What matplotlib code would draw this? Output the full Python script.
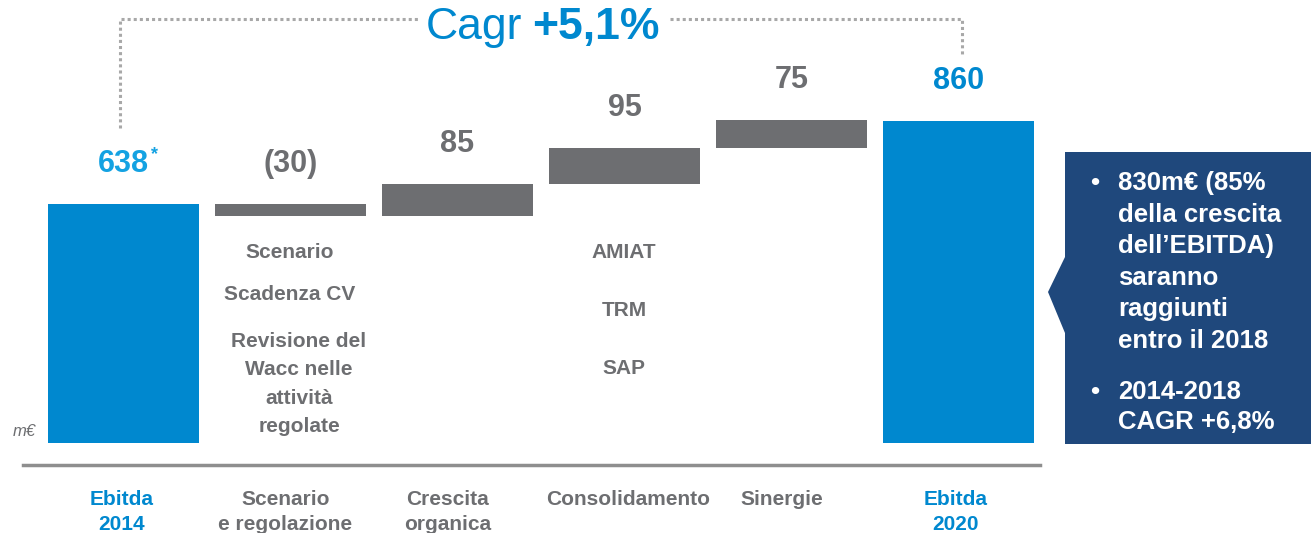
import matplotlib
matplotlib.use("Agg")
import matplotlib.pyplot as plt
from matplotlib.patches import Polygon

# ---------------- data ----------------
categories = ["Ebitda\n2014", "Scenario\ne regolazione", "Crescita\norganica",
              "Consolidamento", "Sinergie", "Ebitda\n2020"]
ebitda_2014 = 638
deltas = [-30, 85, 95, 75]
ebitda_2020 = 860
value_labels = ["638", "(30)", "85", "95", "75", "860"]
scenario_drivers = ["Scenario", "Scadenza CV", "Revisione del\nWacc nelle\nattività\nregolate"]
consolidation_drivers = ["AMIAT", "TRM", "SAP"]
cagr_label = "+5,1%"
callout_points = ["830m€ (85%\ndella crescita\ndell’EBITDA)\nsaranno\nraggiunti\nentro il 2018",
                  "2014-2018\nCAGR +6,8%"]
unit_label = "m€"

# ---------------- style ----------------
plt.rcParams["font.family"] = ["Liberation Sans", "DejaVu Sans"]
BLUE = "#0088CF"
BLUE_LIGHT = "#14A2E2"
GRAY = "#6D6E71"
NAVY = "#1F487C"
DOT = "#A8A8A8"

W, H = 1311, 533
fig = plt.figure(figsize=(W / 100, H / 100), dpi=100)

# main axes: pixel x 23..1040, y 0..465
ax = fig.add_axes([23 / W, (H - 465) / H, 1017 / W, 465 / H])
px_per_unit = 0.374
ax.set_ylim((443 - 465) / px_per_unit, 443 / px_per_unit)
ax.set_xlim((23 - 123.5) / 167, (1040 - 123.5) / 167)

bw = 0.904
n = len(categories)

# totals
ax.bar(0, ebitda_2014, width=bw, color=BLUE, zorder=2)
ax.bar(n - 1, ebitda_2020, width=bw, color=BLUE, zorder=2)

# deltas
cum = ebitda_2014
tops = [ebitda_2014]
for i, d in enumerate(deltas, start=1):
    new = cum + d
    lo, hi = min(cum, new), max(cum, new)
    ax.bar(i, hi - lo, bottom=lo, width=bw, color=GRAY, zorder=2)
    tops.append(hi)
    cum = new
tops.append(ebitda_2020)

# value labels
for i, (t, lab) in enumerate(zip(tops, value_labels)):
    col = BLUE_LIGHT if i == 0 else (BLUE if i == n - 1 else GRAY)
    ax.annotate(lab, (i, t), xytext=(0, 29), textcoords="offset points",
                ha="center", va="center", fontsize=22, fontweight="bold", color=col)
ax.annotate("*", (0, tops[0]), xytext=(22, 36), textcoords="offset points",
            ha="center", va="center", fontsize=13, fontweight="bold", color=BLUE_LIGHT)

# axes styling
for s in ["top", "right", "left"]:
    ax.spines[s].set_visible(False)
ax.spines["bottom"].set_color("#8E8E8E")
ax.spines["bottom"].set_linewidth(2.5)
ax.set_yticks([])
ax.set_xticks([])

# category labels
cat_dx = [-0.01, -0.03, -0.06, 0.02, -0.06, -0.02]
for i, (c, dx) in enumerate(zip(categories, cat_dx)):
    col = BLUE if i in (0, n - 1) else GRAY
    ax.annotate(c, (i + dx, 0), xycoords=("data", "axes fraction"),
                xytext=(0, -18), textcoords="offset points",
                ha="center", va="top", fontsize=15, fontweight="bold",
                color=col, linespacing=1.42, annotation_clip=False)

# ---------------- overlay in pixel coordinates ----------------
ov = fig.add_axes([0, 0, 1, 1])
ov.set_xlim(0, W)
ov.set_ylim(H, 0)
ov.axis("off")

# driver labels
ov.text(290, 253, scenario_drivers[0], ha="center", va="center", fontsize=15,
        fontweight="bold", color=GRAY)
ov.text(290, 294, scenario_drivers[1], ha="center", va="center", fontsize=15,
        fontweight="bold", color=GRAY)
ov.text(299, 384, scenario_drivers[2], ha="center", va="center", fontsize=15,
        fontweight="bold", color=GRAY, linespacing=1.62, multialignment="center")
for txt, y in zip(consolidation_drivers, [252, 311, 368]):
    ov.text(624, y, txt, ha="center", va="center", fontsize=15,
            fontweight="bold", color=GRAY)

ov.text(13, 432, unit_label, ha="left", va="center", fontsize=12,
        fontstyle="italic", color=GRAY)

# CAGR bracket
dash = dict(color=DOT, lw=2.2, linestyle=(0, (1, 1)))
ov.plot([120, 120, 418], [128, 19, 19], **dash)
ov.plot([670, 962, 962], [19, 19, 55], **dash)
ov.text(522, 28, "Cagr", ha="right", va="center", fontsize=32, color=BLUE)
ov.text(532, 28, cagr_label, ha="left", va="center", fontsize=32,
        fontweight="bold", color=BLUE)

# callout box
poly = Polygon([(1065, 152), (1311, 152), (1311, 444), (1065, 444),
                (1065, 333), (1048, 292), (1065, 257)],
               closed=True, facecolor=NAVY, edgecolor="none")
ov.add_patch(poly)
for txt, ytop, ls in zip(callout_points, [171, 380], [1.40, 1.3]):
    ov.text(1090, ytop, "•", ha="left", va="top", fontsize=18.5,
            fontweight="bold", color="white")
    ov.text(1118, ytop, txt, ha="left", va="top", fontsize=18.5,
            fontweight="bold", color="white", linespacing=ls)

fig.savefig("out.png", dpi=100)
